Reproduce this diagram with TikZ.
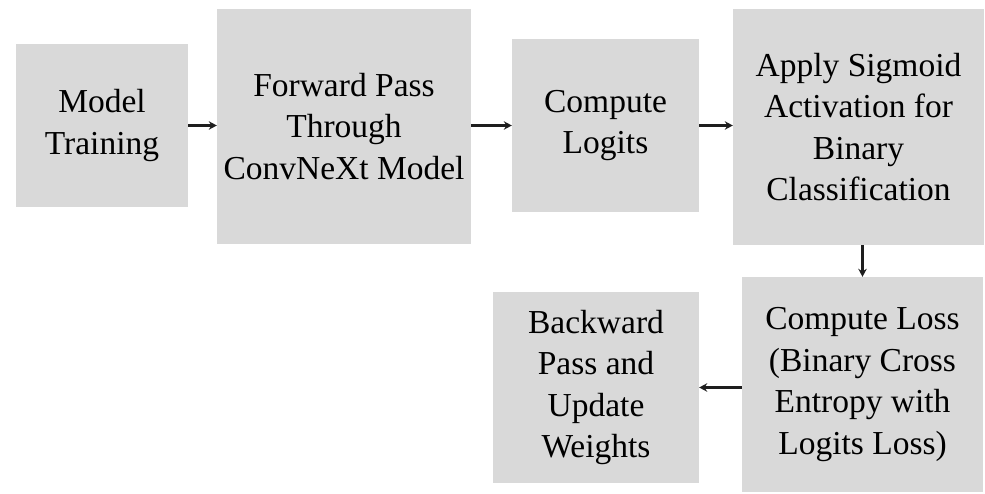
\documentclass[tikz,border=0pt]{standalone}
\usepackage{fontspec}
\setmainfont{Liberation Serif}
\usetikzlibrary{arrows.meta,calc}
\definecolor{boxgray}{HTML}{D9D9D9}
\definecolor{arrowink}{HTML}{1E1E1E}
\begin{document}
\begin{tikzpicture}[x=1pt,y=-1pt,
  stagebox/.style={fill=boxgray,draw=none,align=center,inner sep=0pt,
    font=\fontsize{33.5}{41.5}\selectfont,text=black},
  flow/.style={draw=arrowink,line width=2.2pt,-{Stealth[length=8pt,width=8.5pt]}}]
\useasboundingbox (0,0) rectangle (985,494);

\node[stagebox,minimum width=172pt,minimum height=163pt] (train) at (102,125.5) {Model\\Training};
\node[stagebox,minimum width=254pt,minimum height=235pt] (fwd) at (344,126.5) {Forward Pass\\Through\\ConvNeXt Model};
\node[stagebox,minimum width=187pt,minimum height=173pt] (logits) at (605.5,125.5) {Compute\\Logits};
\node[stagebox,minimum width=251pt,minimum height=236pt] (sigm) at (858.5,127) {Apply Sigmoid\\Activation for\\Binary\\Classification};
\node[stagebox,minimum width=241pt,minimum height=215pt] (loss) at (862.5,384.5) {Compute Loss\\(Binary Cross\\Entropy with\\Logits Loss)};
\node[stagebox,minimum width=206pt,minimum height=191pt] (back) at (596,387.5) {Backward\\Pass and\\Update\\Weights};

\draw[flow] (train.east) -- (train.east -| fwd.west);
\draw[flow] (fwd.east |- logits) -- (logits.west);
\draw[flow] (logits.east) -- (logits.east -| sigm.west);
\draw[flow] (loss.north |- sigm.south) -- (loss.north);
\draw[flow] (loss.west |- back) -- (back.east);
\end{tikzpicture}
\end{document}
